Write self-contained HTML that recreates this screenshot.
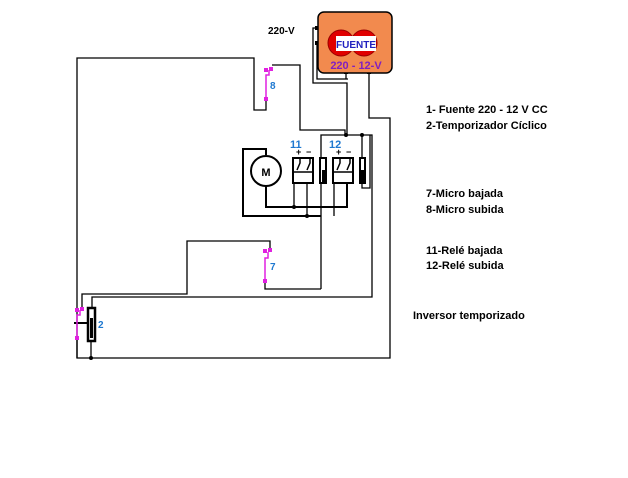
<!DOCTYPE html>
<html><head><style>
html,body{margin:0;padding:0;background:#fff;width:628px;height:478px;overflow:hidden}
svg{display:block}
text{font-family:"Liberation Sans",sans-serif;font-weight:bold}
</style></head><body>
<svg width="628" height="478" viewBox="0 0 628 478" xmlns="http://www.w3.org/2000/svg">
<g fill="none" stroke="#000" stroke-width="1.3">
<polyline points="266,99 266,110 254,110 254,58 77,58 77,358 390,358 390,118 369,118 369,72"/>
<polyline points="272,65 300,65 300,130 345,130 345,135"/>
<polyline points="318,28 313,28 313,83 347,83 347,135"/>
<polyline points="318,43 317,43 317,79 348,79"/>
<line x1="346" y1="72" x2="346" y2="79"/>
<polyline points="321,289 321,135 372,135 372,297 92,297 92,307"/>
<polyline points="362,135 362,188 370,188 370,135"/>
<line x1="294" y1="183" x2="294" y2="207"/>
<line x1="307" y1="183" x2="307" y2="216"/>
<line x1="334" y1="183" x2="334" y2="216"/>
<polyline points="321,289 265,289 265,281"/>
<polyline points="270,249 270,241 187,241 187,294 82,294 82,308"/>
<line x1="91" y1="341" x2="91" y2="358"/>
<line x1="77" y1="338" x2="77" y2="358"/>
</g>
<g fill="none" stroke="#000" stroke-width="2">
<polyline points="266,155 266,149 243,149 243,216 321,216"/>
<polyline points="266,186 266,207 347,207 347,183"/>
<line x1="74" y1="323" x2="87" y2="323"/>
</g>
<g fill="#000">
<circle cx="346" cy="135" r="2"/><circle cx="362" cy="135" r="2"/>
<circle cx="294" cy="207" r="2"/><circle cx="307" cy="216" r="2"/>
<circle cx="91" cy="358" r="2"/>
<rect x="344" y="71" width="4" height="3"/><rect x="367" y="71" width="4" height="3"/>
<rect x="315" y="26" width="3" height="4"/><rect x="315" y="41" width="3" height="4"/>
</g>
<circle cx="266" cy="171" r="15" fill="#fff" stroke="#000" stroke-width="2"/>
<text x="266" y="176" font-size="11" text-anchor="middle" fill="#000" font-weight="normal">M</text>
<g stroke="#000" stroke-width="2" fill="#fff">
<rect x="293" y="158" width="20" height="25"/>
<rect x="333" y="158" width="20" height="25"/>
<rect x="320" y="158" width="6" height="25"/>
<rect x="360" y="158" width="5" height="25"/>
</g>
<g stroke="#000" stroke-width="1.5" fill="none">
<line x1="293" y1="172" x2="313" y2="172"/><line x1="333" y1="172" x2="353" y2="172"/>
<polyline points="297,170 300,163 300,158"/><polyline points="307,170 310,163 310,158"/>
<polyline points="337,170 340,163 340,158"/><polyline points="347,170 350,163 350,158"/>
</g>
<rect x="322" y="170" width="3" height="12" fill="#000"/>
<rect x="361" y="170" width="3" height="12" fill="#000"/>
<text x="296" y="155" font-size="9" fill="#000" font-weight="normal">+</text>
<text x="306" y="155" font-size="9" fill="#000" font-weight="normal">−</text>
<text x="336" y="155" font-size="9" fill="#000" font-weight="normal">+</text>
<text x="346" y="155" font-size="9" fill="#000" font-weight="normal">−</text>
<text x="290" y="148" font-size="11" fill="#1e78d0">11</text>
<text x="329" y="148" font-size="11" fill="#1e78d0">12</text>
<rect x="88" y="308" width="7" height="33" fill="#fff" stroke="#000" stroke-width="2.5"/>
<rect x="90" y="318" width="3" height="20" fill="#000"/>
<text x="98" y="328" font-size="10" fill="#1e78d0" font-weight="normal">2</text>
<g stroke="#e020e0" stroke-width="1.5" fill="none">
<polyline points="266,99 266,75 269,75 269,70"/>
<polyline points="265,281 265,258 268,258 268,252"/>
<polyline points="77,338 77,315 80,315 80,310"/>
</g>
<g fill="#e020e0">
<rect x="264" y="68" width="4" height="4"/><rect x="269" y="67" width="4" height="4"/><rect x="264" y="97" width="4" height="4"/>
<rect x="263" y="249" width="4" height="4"/><rect x="268" y="248" width="4" height="4"/><rect x="263" y="279" width="4" height="4"/>
<rect x="75" y="308" width="4" height="4"/><rect x="80" y="307" width="4" height="4"/><rect x="75" y="336" width="4" height="4"/>
</g>
<text x="270" y="89" font-size="10" fill="#1e78d0">8</text>
<text x="270" y="270" font-size="10" fill="#1e78d0" font-weight="normal">7</text>
<rect x="318" y="12" width="74" height="61" rx="6" fill="#f28a4e" stroke="#000" stroke-width="1.5"/>
<circle cx="341" cy="43" r="13" fill="#e00000" stroke="#900" stroke-width="1"/>
<circle cx="364" cy="43" r="13" fill="#e00000" stroke="#900" stroke-width="1"/>
<rect x="336" y="36" width="40" height="15" fill="#fff"/>
<text x="356" y="48" font-size="10" text-anchor="middle" fill="#2020c0">FUENTE</text>
<text x="356" y="69" font-size="11" text-anchor="middle" fill="#8020c0">220 - 12-V</text>
<text x="268" y="34" font-size="10" fill="#000">220-V</text>
<g font-size="11" fill="#000">
<text x="426" y="113">1- Fuente 220 - 12 V CC</text>
<text x="426" y="129">2-Temporizador <tspan font-size="11">Cíclico</tspan></text>
<text x="426" y="197">7-Micro bajada</text>
<text x="426" y="213">8-Micro subida</text>
<text x="426" y="254">11-Relé bajada</text>
<text x="426" y="269">12-Relé subida</text>
<text x="413" y="319">Inversor temporizado</text>
</g>
</svg>
</body></html>
